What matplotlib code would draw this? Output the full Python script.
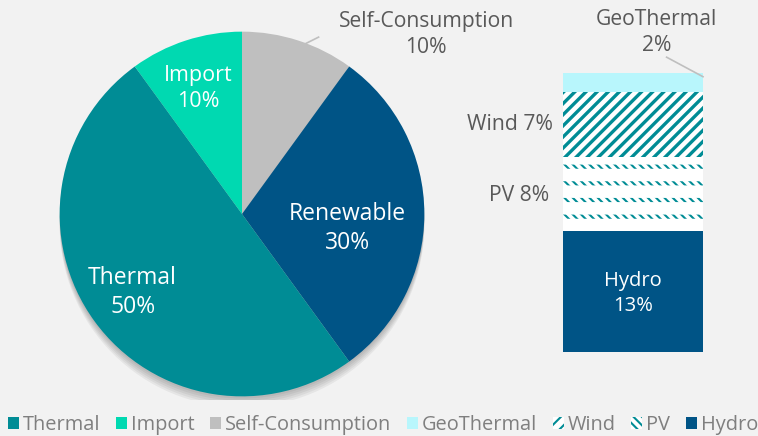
import matplotlib as mpl
import matplotlib.pyplot as plt
from matplotlib.patches import Patch, Circle, Rectangle
import numpy as np

plt.rcParams['font.family'] = ['Open Sans', 'DejaVu Sans']
plt.rcParams['hatch.linewidth'] = 1.5

# datos del pastel (sentido horario desde arriba)
pie_labels = ["Self-Consumption", "Renewable", "Thermal", "Import"]
pie_values = [10, 30, 50, 10]
pie_colors = ["#BFBFBF", "#005486", "#008C95", "#00D9B1"]

# datos de la barra (de abajo hacia arriba)
bar_labels = ["Hydro", "PV", "Wind", "GeoThermal"]
bar_values = [13, 8, 7, 2]
bar_colors = ["#005486", "white", "white", "#B8F6FC"]
bar_hatch = [None, "\\" * 4, "/" * 3, None]
hatch_lw = [1.5, 1.5, 2.4, 1.5]

bg = "#F2F2F2"
teal = "#008C95"
gris = "#595959"
W, H = 758, 436

fig = plt.figure(figsize=(W / 100, H / 100), dpi=100, facecolor=bg)

# pastel
cx, cy, r = 242, 214, 186
ax = fig.add_axes([(cx - r) / W, 1 - (cy + r) / H, 2 * r / W, 2 * r / H])
ax.set_facecolor(bg)
for k in range(1, 6):
    ax.add_patch(Circle((0, -0.012 * k), 1.0, color="black", alpha=0.05, lw=0))
ax.pie(pie_values, colors=pie_colors, startangle=90, counterclock=False,
       radius=1, wedgeprops=dict(linewidth=0))
ax.set_xlim(-1.02, 1.02)
ax.set_ylim(-1.02, 1.02)
ax.axis("off")

ax.text(-0.24, 0.69, "Import\n10%", color="white", fontsize=15.5, ha="center", va="center", linespacing=1.3)
ax.text(0.58, -0.08, "Renewable\n30%", color="white", fontsize=16.5, ha="center", va="center", linespacing=1.3)
ax.text(-0.6, -0.43, "Thermal\n50%", color="white", fontsize=16.5, ha="center", va="center", linespacing=1.3)
ax.text(1.01, 0.985, "Self-Consumption\n10%", color=gris, fontsize=15.2, ha="center", va="center", linespacing=1.3)
ax.plot([0.34, 0.42], [0.93, 0.97], color="#BFBFBF", lw=1.2, clip_on=False)

# barra apilada
bx0, bx1, by0, by1 = 563, 703, 73, 352
bax = fig.add_axes([bx0 / W, 1 - by1 / H, (bx1 - bx0) / W, (by1 - by0) / H])
bax.set_facecolor(bg)
total = sum(bar_values)
for k in range(1, 4):
    bax.add_patch(Rectangle((-0.5 + 0.008 * k, -0.1 * k), 1, total, color="black", alpha=0.07, lw=0))
bottoms = np.concatenate([[0], np.cumsum(bar_values)[:-1]])
for lab, v, b, c, h, hl in zip(bar_labels, bar_values, bottoms, bar_colors, bar_hatch, hatch_lw):
    with mpl.rc_context({'hatch.linewidth': hl}):
        bax.bar(0, v, bottom=b, width=1, color=c, hatch=h, edgecolor=teal if h else c, linewidth=0)
    if lab == "PV":
        # filas blancas para dejar trazos cortos
        with mpl.rc_context({'hatch.linewidth': 9.0}):
            bax.bar(0, v, bottom=b, width=1, facecolor="none", hatch="-", edgecolor="white", linewidth=0)
bax.set_xlim(-0.5, 0.5)
bax.set_ylim(0, total)
bax.axis("off")

bax.text(0, 6.3, "Hydro\n13%", color="white", fontsize=14.5, ha="center", va="center", linespacing=1.3)
bax.text(-0.6, 16.8, "PV 8%", color=gris, fontsize=15.2, ha="right", va="center")
bax.text(-0.575, 24.5, "Wind 7%", color=gris, fontsize=15.2, ha="right", va="center")
bax.text(0.17, 34.35, "GeoThermal\n2%", color=gris, fontsize=15.2, ha="center", va="center",
         linespacing=1.3, clip_on=False)
bax.plot([0.24, 0.5], [31.7, 29.6], color="#BFBFBF", lw=1.2, clip_on=False)

# leyenda
with mpl.rc_context({'hatch.linewidth': 2.0}):
    handles = [Patch(facecolor=pie_colors[2], label="Thermal"),
               Patch(facecolor=pie_colors[3], label="Import"),
               Patch(facecolor=pie_colors[0], label="Self-Consumption"),
               Patch(facecolor=bar_colors[3], label="GeoThermal"),
               Patch(facecolor="white", edgecolor=teal, hatch="/" * 3, linewidth=0, label="Wind"),
               Patch(facecolor="white", edgecolor=teal, hatch="\\" * 4, linewidth=0, label="PV"),
               Patch(facecolor=bar_colors[0], label="Hydro")]
leg = fig.legend(handles=handles, loc="lower center", bbox_to_anchor=(0.505, -0.04), ncol=7,
                 frameon=False, fontsize=14.4, handlelength=0.55, handleheight=0.55,
                 handletextpad=0.2, columnspacing=0.78, labelcolor="#7F7F7F")

fig.savefig("out.png", dpi=100, facecolor=bg)
